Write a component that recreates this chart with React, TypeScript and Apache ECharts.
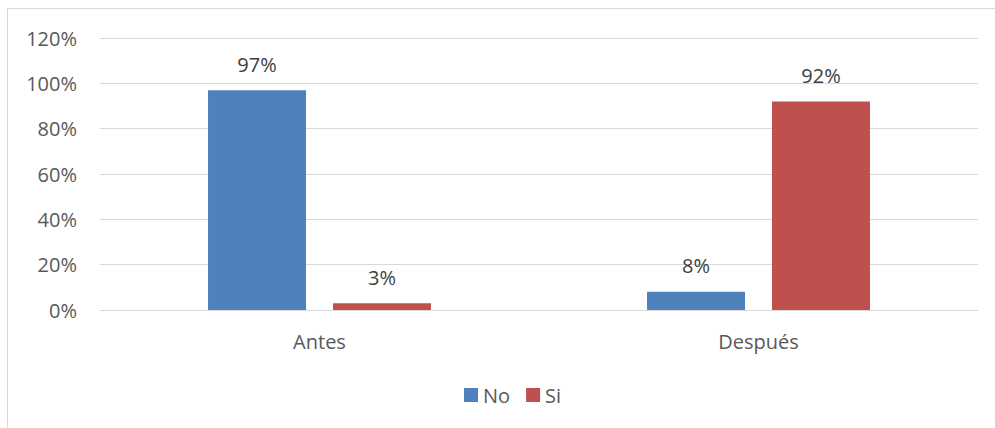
import React, { useEffect, useRef } from "react";
import * as echarts from "echarts";

const categories = ["Antes", "Después"];
const seriesNames = ["No", "Si"];
const noValues = [97, 8];
const siValues = [3, 92];
const colors = ["#4F81BD", "#C0504D"];
const yMax = 120;
const yInterval = 20;

export default function App() {
  const ref = useRef<HTMLDivElement>(null);
  useEffect(() => {
    document.body.style.margin = "0";
    if (!ref.current) return;
    const chart = echarts.init(ref.current, null, { renderer: "svg" });
    const font = "'Open Sans', 'Noto Sans', sans-serif";
    const labelStyle = {
      show: true,
      position: "top" as const,
      distance: 16,
      fontFamily: font,
      fontSize: 20,
      color: "#404040",
      formatter: "{c}%",
    };
    chart.setOption({
      animation: false,
      backgroundColor: "#ffffff",
      textStyle: { fontFamily: font },
      graphic: [
        {
          type: "rect",
          shape: { x: 7.5, y: 8.5, width: 1100, height: 1100 },
          style: { fill: "none", stroke: "#d9d9d9", lineWidth: 1 },
          silent: true,
        },
      ],
      grid: { left: 100, right: 17, top: 38, bottom: 118, containLabel: false },
      legend: {
        data: seriesNames,
        left: 459,
        top: 380,
        itemWidth: 14,
        itemHeight: 14,
        itemGap: 16,
        icon: "rect",
        textStyle: { fontFamily: font, fontSize: 20, color: "#595959" },
      },
      xAxis: {
        type: "category",
        data: categories,
        axisLine: { show: true, lineStyle: { color: "#d9d9d9", width: 1 } },
        axisTick: { show: false },
        axisLabel: { fontFamily: font, fontSize: 20, color: "#595959", margin: 21 },
      },
      yAxis: {
        type: "value",
        min: 0,
        max: yMax,
        interval: yInterval,
        axisLine: { show: false },
        axisTick: { show: false },
        splitLine: { lineStyle: { color: "#d9d9d9", width: 1 } },
        axisLabel: {
          formatter: "{value}%",
          fontFamily: font,
          fontSize: 20,
          color: "#595959",
          margin: 23,
        },
      },
      series: [
        {
          name: seriesNames[0],
          type: "bar",
          data: noValues,
          barWidth: 98,
          barGap: "27.5%",
          itemStyle: { color: colors[0] },
          label: labelStyle,
        },
        {
          name: seriesNames[1],
          type: "bar",
          data: siValues,
          barWidth: 98,
          barGap: "27.5%",
          itemStyle: { color: colors[1] },
          label: labelStyle,
        },
      ],
    });
    return () => chart.dispose();
  }, []);
  return <div ref={ref} style={{ width: 995, height: 428 }} />;
}
